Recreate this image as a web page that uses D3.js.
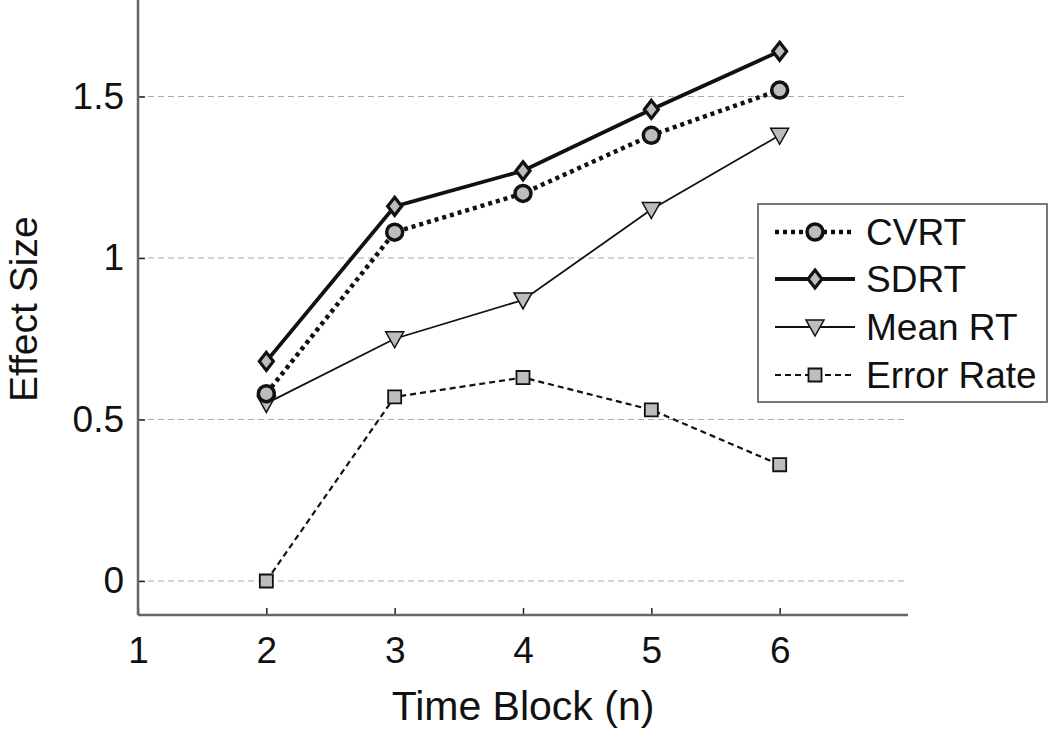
<!DOCTYPE html>
<html><head><meta charset="utf-8">
<script src="https://cdn.jsdelivr.net/npm/d3@7"></script>
<style>body{margin:0;background:#fff;} text{font-family:"Liberation Sans",Arial,sans-serif;}</style>
</head><body>
<svg id="c" width="1050" height="733"></svg>
<script>
const timeBlocks = [2, 3, 4, 5, 6];
const cvrt = [0.58, 1.08, 1.20, 1.38, 1.52];
const sdrt = [0.68, 1.16, 1.27, 1.46, 1.64];
const meanRT = [0.55, 0.75, 0.87, 1.15, 1.38];
const errorRate = [0.0, 0.57, 0.63, 0.53, 0.36];
const seriesNames = ["CVRT", "SDRT", "Mean RT", "Error Rate"];
const xTicks = [1, 2, 3, 4, 5, 6];
const yTicks = [0, 0.5, 1, 1.5];

const svg = d3.select("#c");
const x = d3.scaleLinear().domain([1, 7]).range([138, 908]);
const y = d3.scaleLinear().domain([0, 1.5]).range([581, 96.5]);
const yBottom = y(-0.105), yTop = y(1.8);

// gridlines
svg.append("g").selectAll("line").data(yTicks).join("line")
  .attr("x1", x(1)).attr("x2", x(7)).attr("y1", d => y(d)).attr("y2", d => y(d))
  .attr("stroke", "#aaa").attr("stroke-width", 1.2).attr("stroke-dasharray", "6,4");

// axes
const axisColor = "#666";
const xAxis = svg.append("g").attr("transform", `translate(0,${yBottom})`)
  .call(d3.axisBottom(x).tickValues(xTicks).tickSize(-7).tickPadding(22).tickFormat(d3.format("d")));
const yAxis = svg.append("g").attr("transform", `translate(${x(1)},0)`)
  .call(d3.axisLeft(y).tickValues(yTicks).tickSize(-7).tickPadding(14).tickFormat(d => d === 0 ? "0" : String(d)));
[xAxis, yAxis].forEach(a => {
  a.select(".domain").remove();
  a.selectAll(".tick line").attr("stroke", "#222").attr("stroke-width", 1.5);
  a.selectAll(".tick text").attr("font-size", 37).attr("fill", "#111")
    .attr("font-family", '"Liberation Sans",Arial,sans-serif');
});
xAxis.selectAll(".tick text").attr("dy", "0.71em");
svg.append("line").attr("x1", x(1)).attr("x2", x(7)).attr("y1", yBottom).attr("y2", yBottom)
  .attr("stroke", axisColor).attr("stroke-width", 2.5);
svg.append("line").attr("x1", x(1)).attr("x2", x(1)).attr("y1", yTop).attr("y2", yBottom)
  .attr("stroke", axisColor).attr("stroke-width", 2.5);

// axis titles
svg.append("text").attr("x", x(4)).attr("y", 720).attr("text-anchor", "middle")
  .attr("font-size", 41).attr("fill", "#111").text("Time Block (n)");
svg.append("text").attr("transform", `translate(37,${(yTop + yBottom) / 2 + 2}) rotate(-90)`)
  .attr("text-anchor", "middle").attr("font-size", 39).attr("fill", "#111").text("Effect Size");

const fillGray = "#bdbdbd";
const styles = [
  {data: cvrt, width: 4.5, dash: "4,4", sym: d3.symbolCircle, size: 200, mw: 3.5},
  {data: sdrt, width: 3.8, dash: null, sym: "dia", size: 0, mw: 3.2},
  {data: meanRT, width: 1.8, dash: null, sym: "tri", size: 0, mw: 1.5},
  {data: errorRate, width: 2.2, dash: "6,4", sym: d3.symbolSquare, size: 170, mw: 1.8}
];

function drawMarker(g, s, cx, cy) {
  let d;
  if (s.sym === "tri") {
    d = `M${cx - 9},${cy - 7}L${cx + 9},${cy - 7}L${cx},${cy + 9}Z`;
  } else if (s.sym === "dia") {
    d = `M${cx},${cy - 9}L${cx + 7},${cy}L${cx},${cy + 9}L${cx - 7},${cy}Z`;
  }
  if (d) {
    g.append("path").attr("d", d)
      .attr("fill", fillGray).attr("stroke", "#111").attr("stroke-width", s.mw);
  } else {
    g.append("path").attr("transform", `translate(${cx},${cy})`)
      .attr("d", d3.symbol().type(s.sym).size(s.size)())
      .attr("fill", fillGray).attr("stroke", "#111").attr("stroke-width", s.mw);
  }
}

const line = d3.line().x((d, i) => x(timeBlocks[i])).y(d => y(d));
// draw bottom series first
[3, 2, 0, 1].forEach(k => {
  const s = styles[k];
  const g = svg.append("g");
  g.append("path").attr("d", line(s.data)).attr("fill", "none").attr("stroke", "#111")
    .attr("stroke-width", s.width).attr("stroke-dasharray", s.dash);
  s.data.forEach((v, i) => drawMarker(g, s, x(timeBlocks[i]), y(v)));
});

// legend
const lg = svg.append("g");
lg.append("rect").attr("x", 758).attr("y", 204).attr("width", 289).attr("height", 198)
  .attr("fill", "#fff").attr("stroke", "#777").attr("stroke-width", 2);
const rowY = [232, 279, 327, 375];
seriesNames.forEach((name, k) => {
  const s = styles[k];
  const ry = rowY[k];
  lg.append("line").attr("x1", 775).attr("x2", 855).attr("y1", ry).attr("y2", ry)
    .attr("stroke", "#111").attr("stroke-width", s.width).attr("stroke-dasharray", s.dash);
  drawMarker(lg, s, 815, ry);
  lg.append("text").attr("x", 866).attr("y", ry + 13).attr("font-size", 37).attr("fill", "#111").text(name);
});
</script>
</body></html>
